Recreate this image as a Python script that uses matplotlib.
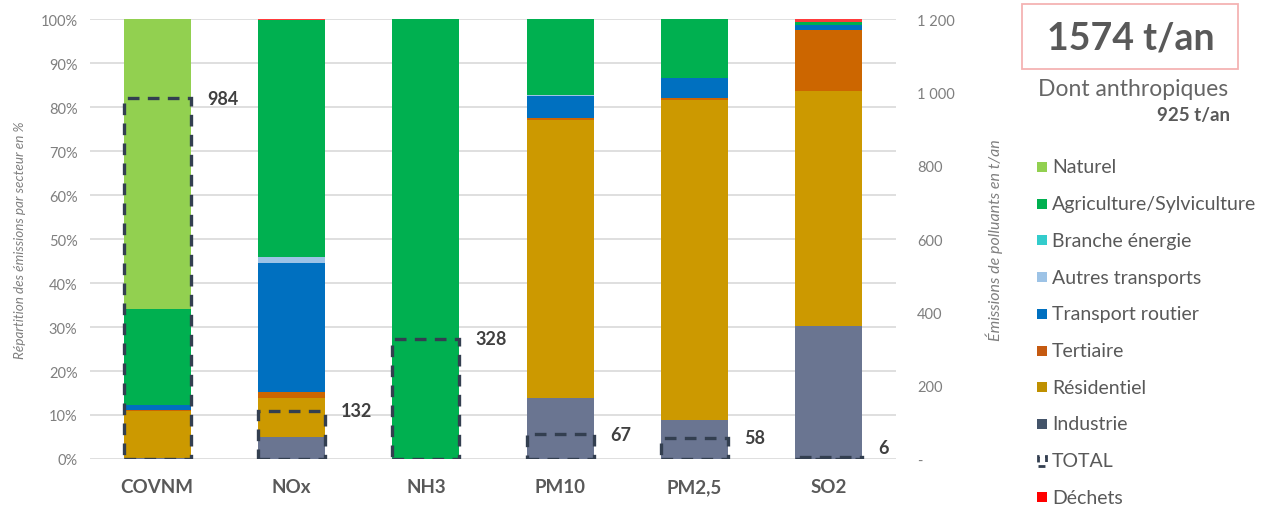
import matplotlib
matplotlib.use("Agg")
import matplotlib.pyplot as plt
import numpy as np
from matplotlib.patches import Rectangle
from matplotlib.ticker import FuncFormatter, PercentFormatter

plt.rcParams['font.family'] = ['Lato', 'DejaVu Sans']

# Pollutants
categories = ["COVNM", "NOx", "NH3", "PM10", "PM2,5", "SO2"]

# Share of emissions by sector (%), stacked bottom to top
industrie = [0.3, 4.9, 0.0, 13.8, 8.9, 30.3]
residentiel = [10.6, 9.0, 0.0, 63.3, 72.7, 53.4]
tertiaire = [0.2, 1.3, 0.0, 0.5, 0.4, 13.9]
transport_routier = [1.1, 29.3, 0.0, 5.0, 4.6, 1.0]
autres_transports = [0.0, 1.5, 0.0, 0.1, 0.1, 0.0]
branche_energie = [0.0, 0.0, 0.0, 0.0, 0.0, 0.0]
agriculture = [22.0, 53.7, 100.0, 17.3, 13.3, 0.8]
naturel = [65.8, 0.0, 0.0, 0.0, 0.0, 0.0]
dechets = [0.0, 0.3, 0.0, 0.0, 0.0, 0.6]

# Total emissions per pollutant (t/an)
totals = [984, 132, 328, 67, 58, 6]

total_all = "1574 t/an"
anthropic_label = "Dont anthropiques"
anthropic_value = "925 t/an"

sectors = [
    ("Industrie", industrie, "#6A7591", "#44546A"),
    ("Résidentiel", residentiel, "#CC9900", "#BF9000"),
    ("Tertiaire", tertiaire, "#CC6600", "#C55A11"),
    ("Transport routier", transport_routier, "#0070C0", "#0070C0"),
    ("Autres transports", autres_transports, "#9DC3E6", "#9DC3E6"),
    ("Branche énergie", branche_energie, "#33CCCC", "#33CCCC"),
    ("Agriculture/Sylviculture", agriculture, "#00B050", "#00B050"),
    ("Naturel", naturel, "#92D050", "#92D050"),
    ("Déchets", dechets, "#FF3B3B", "#FF0000"),
]

legend_order = ["Naturel", "Agriculture/Sylviculture", "Branche énergie",
                "Autres transports", "Transport routier", "Tertiaire",
                "Résidentiel", "Industrie", "TOTAL", "Déchets"]

W, H = 1270, 506
fig = plt.figure(figsize=(W / 100, H / 100), dpi=100)
ax = fig.add_axes([90 / W, (H - 460) / H, (896 - 90) / W, 440 / H])

x = np.arange(len(categories))
bar_w = 0.5
bottom = np.zeros(len(categories))
for name, vals, col, _ in sectors:
    vals = np.array(vals, dtype=float)
    ax.bar(x, vals, bar_w, bottom=bottom, color=col, linewidth=0, zorder=2)
    bottom += vals

ax.set_xlim(-0.5, len(categories) - 0.5)
ax.set_ylim(0, 100)
ax.set_yticks(np.arange(0, 101, 10))
ax.yaxis.set_major_formatter(PercentFormatter(decimals=0))
ax.grid(axis='y', color='#D9D9D9', linewidth=1.2, zorder=0)
ax.set_axisbelow(True)
for s in ax.spines.values():
    s.set_visible(False)
ax.tick_params(axis='y', length=0, pad=9, labelsize=10.5, labelcolor='#7F7F7F')
ax.tick_params(axis='x', length=0, pad=14)
ax.set_xticks(x)
ax.set_xticklabels(categories, fontsize=13.5, fontweight='bold', color='#595959')
ax.set_ylabel("Répartition des émissions par secteur en %", fontsize=9.7,
              style='italic', color='#7F7F7F', labelpad=10)

# Totals on the secondary axis, drawn as dashed outlines
ax2 = ax.twinx()
ax2.set_ylim(0, 1200)
ax2.set_yticks(np.arange(0, 1201, 200))


def fmt_t(v, pos):
    if v == 0:
        return "-"
    return f"{int(v):,}".replace(",", " ")


ax2.yaxis.set_major_formatter(FuncFormatter(fmt_t))
ax2.tick_params(axis='y', length=0, pad=15, labelsize=10.5, labelcolor='#7F7F7F')
for lab in ax2.get_yticklabels():
    lab.set_horizontalalignment('left')
for s in ax2.spines.values():
    s.set_visible(False)
ax2.set_ylabel("Émissions de polluants en t/an", fontsize=11.5, style='italic',
               color='#7F7F7F', labelpad=22)
ax2.bar(x, totals, bar_w, fill=False, edgecolor='#333F50', linewidth=2.4,
        linestyle=(0, (3.5, 2.5)), zorder=3)
for xi, t in zip(x, totals):
    ax2.text(xi + bar_w / 2 + 0.12, max(t, 30), str(t), ha='left', va='center',
             fontsize=13, fontweight='bold', color='#404040')

# Headline box
fig.patches.append(Rectangle((1022 / W, (H - 70) / H), 216 / W, 65 / H,
                             transform=fig.transFigure, fill=False,
                             edgecolor='#F4B3B3', linewidth=1.3))
fig.text(1131 / W, (H - 39) / H, total_all, ha='center', va='center',
         fontsize=27, fontweight='bold', color='#595959')
fig.text(1133 / W, (H - 90) / H, anthropic_label, ha='center', va='center',
         fontsize=16.5, color='#666666')
fig.text(1230 / W, (H - 116) / H, anthropic_value, ha='right', va='center',
         fontsize=13.5, fontweight='bold', color='#595959')

# Legend
leg_colors = {name: lc for name, _, _, lc in sectors}
y0, dy = 168, 36.7
for i, name in enumerate(legend_order):
    yc = y0 + i * dy
    if name == "TOTAL":
        fig.patches.append(Rectangle((1038 / W, (H - yc - 5) / H), 8 / W, 10 / H,
                                     transform=fig.transFigure, fill=False,
                                     edgecolor='#333F50', linewidth=2,
                                     linestyle=(0, (2.5, 2))))
    else:
        fig.patches.append(Rectangle((1037 / W, (H - yc - 5) / H), 10 / W, 10 / H,
                                     transform=fig.transFigure,
                                     facecolor=leg_colors[name], linewidth=0))
    fig.text(1052 / W, (H - yc) / H, name, ha='left', va='center',
             fontsize=14, color='#595959')

fig.savefig("out.png", dpi=100)
